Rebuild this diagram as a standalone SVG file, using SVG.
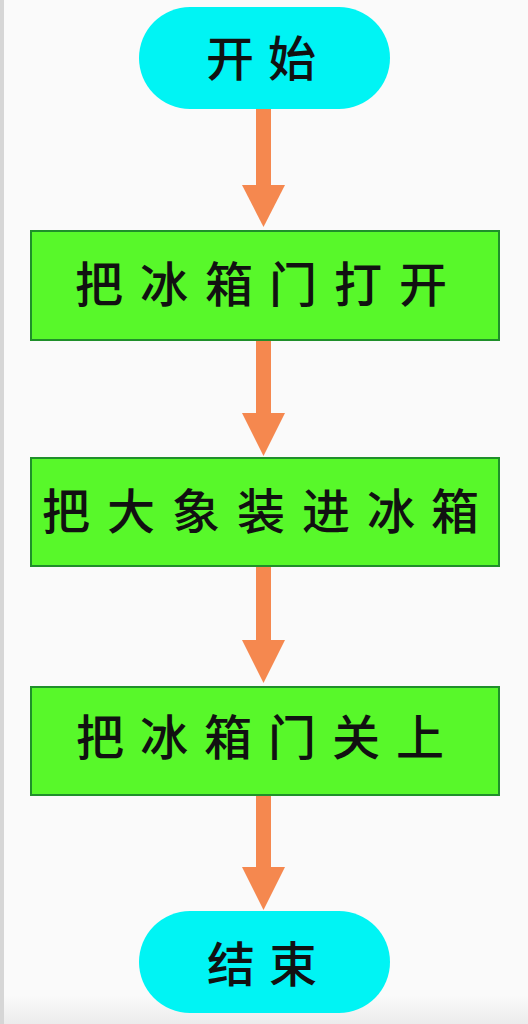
<svg xmlns="http://www.w3.org/2000/svg" width="528" height="1024" viewBox="0 0 528 1024">
<defs>
<linearGradient id="bot" x1="0" y1="0" x2="0" y2="1">
<stop offset="0" stop-color="#fafafa"/>
<stop offset="1" stop-color="#ececec"/>
</linearGradient>
<style>
.term{fill:#00f4f4}
.proc{fill:#58f82a;stroke:#1f8f2a;stroke-width:2}
.lbl{font-family:"Noto Sans CJK SC","Noto Sans CJK JP",sans-serif;font-size:48px;font-weight:500;fill:#111;text-anchor:middle;dominant-baseline:central}
.shaft{stroke:#f5884f;stroke-width:15;stroke-linecap:round;fill:none}
.head{fill:#f5884f}
</style>
</defs>
<rect x="0" y="0" width="528" height="1024" fill="#fafafa"/>
<rect x="0" y="995" width="528" height="29" fill="url(#bot)"/>
<rect x="0" y="0" width="4" height="1024" fill="#d6d6d6"/>
<g id="connectors">
<line class="shaft" x1="263.5" y1="108" x2="263.5" y2="190"/>
<polygon class="head" points="242,185 285,185 263.5,227"/>
<line class="shaft" x1="263.5" y1="336" x2="263.5" y2="418"/>
<polygon class="head" points="242,413 285,413 263.5,456"/>
<line class="shaft" x1="263.5" y1="563" x2="263.5" y2="645"/>
<polygon class="head" points="242,640 285,640 263.5,683"/>
<line class="shaft" x1="263.5" y1="791" x2="263.5" y2="872"/>
<polygon class="head" points="242,867 285,867 263.5,910"/>
</g>
<g id="start">
<rect class="term" x="139" y="7" width="251" height="102" rx="51"/>
<text class="lbl" x="230 292" y="55">开始</text>
</g>
<g id="step1">
<rect class="proc" x="31" y="231" width="468" height="109"/>
<text class="lbl" x="99 164 229 293 358 423" y="281">把冰箱门打开</text>
</g>
<g id="step2">
<rect class="proc" x="31" y="458" width="468" height="108"/>
<text class="lbl" x="66 131 196 261 326 391 455" y="508">把大象装进冰箱</text>
</g>
<g id="step3">
<rect class="proc" x="31" y="687" width="468" height="108"/>
<text class="lbl" x="100 164 228 292 356 420" y="734">把冰箱门关上</text>
</g>
<g id="end">
<rect class="term" x="139" y="911" width="251" height="102" rx="51"/>
<text class="lbl" x="231 293" y="961">结束</text>
</g>
</svg>
